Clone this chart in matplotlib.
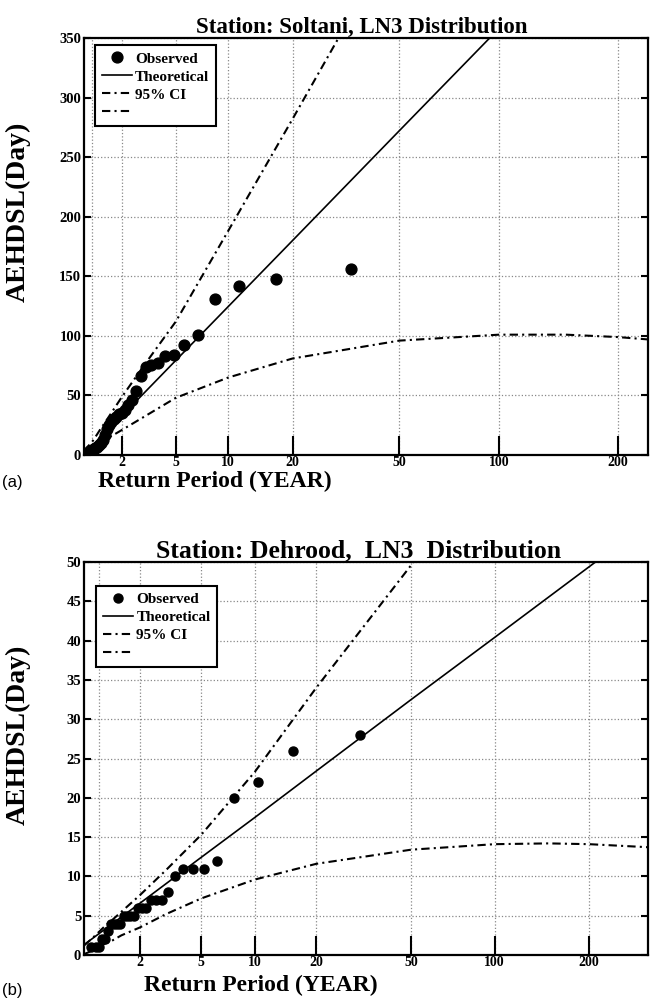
import math
import numpy as np
import matplotlib
matplotlib.use("Agg")
import matplotlib.pyplot as plt
from matplotlib.ticker import FixedLocator, NullFormatter

# ---------------- data (panel a: Soltani) ----------------
obs_T_a = [34.0, 17.0, 11.33, 8.5, 6.8, 5.667, 4.857, 4.25, 3.778, 3.4, 3.091,
           2.833, 2.615, 2.429, 2.267, 2.125, 2.0, 1.889, 1.789, 1.7, 1.619,
           1.545, 1.478, 1.417, 1.36, 1.308, 1.259, 1.214, 1.172, 1.133, 1.097,
           1.0625, 1.0303]
obs_a = [156, 148, 142, 131, 101, 92, 84, 83, 77, 75.5, 74, 66, 54, 46, 42, 38,
         35, 34, 32, 30, 28, 25, 22, 17, 13, 10, 8, 7, 6, 5, 4, 2, 1]
theo_T_a = [1.004, 2, 5, 10, 20, 50, 100]
theo_a = [0.2, 32.9, 79.4, 124.5, 180.0, 272.2, 358.1]
ci_T_a = [1.004, 1.02, 1.05, 1.1, 1.2, 1.3, 1.5, 2, 3, 5, 10, 20, 50, 100, 150, 200, 235]
ci_up_a = [3.5, 6.0, 8.0, 10.7, 16.7, 22.0, 30.6, 48.8, 75, 112, 188, 282, 440, 580, 680, 750, 800]
ci_lo_a = [0.5, 1.5, 3.0, 5.0, 8.0, 10.5, 14, 21, 32, 48, 65, 81, 96, 101, 101, 99, 97]

# ---------------- data (panel b: Dehrood) ----------------
obs_T_b = [31.0, 15.5, 10.33, 7.75, 6.2, 5.167, 4.429, 3.875, 3.444, 3.1, 2.818,
           2.583, 2.385, 2.214, 2.067, 1.9375, 1.824, 1.722, 1.632, 1.55, 1.476,
           1.409, 1.348, 1.292, 1.24, 1.192, 1.148, 1.107, 1.069, 1.033]
obs_b = [28, 26, 22, 20, 12, 11, 11, 11, 10, 8, 7, 7, 7, 6, 6, 6, 5, 5, 5, 5,
         4, 4, 4, 4, 3, 2, 2, 1, 1, 1]
theo_T_b = [1.0023, 2, 5, 10, 20, 50, 100, 200, 300]
theo_b = [1.3, 6.57, 12.43, 17.5, 23.4, 32.5, 40.4, 49.4, 55.2]
ci_T_b = [1.0023, 1.02, 1.05, 1.1, 1.2, 1.3, 1.5, 2, 3, 5, 10, 20, 50, 100, 150, 200, 300]
ci_up_b = [1.2, 1.8, 2.3, 2.9, 3.8, 4.4, 5.5, 7.6, 10.8, 15.3, 23.3, 34.0, 49.6, 63, 72, 78, 90]
ci_lo_b = [0.1, 0.4, 0.7, 1.0, 1.5, 1.8, 2.5, 3.5, 5.2, 7.2, 9.6, 11.6, 13.4, 14.1, 14.2, 14.1, 13.7]

xticks_T = [2, 5, 10, 20, 50, 100, 200]
xtick_labels = ["2", "5", "10", "20", "50", "100", "200"]


# ---------------- probability scale helpers ----------------
def norm_ppf(p):
    p = np.clip(np.asarray(p, dtype=float), 1e-15, 1 - 1e-15)
    a = [-3.969683028665376e+01, 2.209460984245205e+02, -2.759285104469687e+02,
         1.383577518672690e+02, -3.066479806614716e+01, 2.506628277459239e+00]
    b = [-5.447609879822406e+01, 1.615858368580409e+02, -1.556989798598866e+02,
         6.680131188771972e+01, -1.328068155288572e+01]
    c = [-7.784894002430293e-03, -3.223964580411365e-01, -2.400758277161838e+00,
         -2.549732539343734e+00, 4.374664141464968e+00, 2.938163982698783e+00]
    d = [7.784695709041462e-03, 3.224671290700398e-01, 2.445134137142996e+00,
         3.754408661907416e+00]
    plow = 0.02425
    out = np.empty_like(p)
    lo = p < plow
    hi = p > 1 - plow
    mid = ~(lo | hi)
    q = np.sqrt(-2 * np.log(p[lo]))
    out[lo] = (((((c[0]*q+c[1])*q+c[2])*q+c[3])*q+c[4])*q+c[5]) / ((((d[0]*q+d[1])*q+d[2])*q+d[3])*q+1)
    q = p[mid] - 0.5
    r = q * q
    out[mid] = (((((a[0]*r+a[1])*r+a[2])*r+a[3])*r+a[4])*r+a[5])*q / (((((b[0]*r+b[1])*r+b[2])*r+b[3])*r+b[4])*r+1)
    q = np.sqrt(-2 * np.log(1 - p[hi]))
    out[hi] = -(((((c[0]*q+c[1])*q+c[2])*q+c[3])*q+c[4])*q+c[5]) / ((((d[0]*q+d[1])*q+d[2])*q+d[3])*q+1)
    return out


_erf = np.vectorize(math.erf)


def make_scale(s):
    def fwd(T):
        T = np.asarray(T, dtype=float)
        T = np.where(T > 1.0000001, T, 1.0000001)
        return np.exp(s * norm_ppf(1.0 - 1.0 / T))

    def inv(u):
        u = np.asarray(u, dtype=float)
        u = np.where(u > 1e-12, u, 1e-12)
        z = np.log(u) / s
        phi = 0.5 * (1 + _erf(z / math.sqrt(2)))
        phi = np.clip(phi, 0, 1 - 1e-12)
        return 1.0 / (1.0 - phi)
    return fwd, inv


SERIF = "Liberation Serif"
DASHDOT = (0, (4, 2, 1, 2))

fig = plt.figure(figsize=(6.5, 10.01), dpi=100)
ax1 = fig.add_axes([84 / 650, 1 - 455 / 1001, (648 - 84) / 650, (455 - 38) / 1001])
ax2 = fig.add_axes([84 / 650, 1 - 955 / 1001, (648 - 84) / 650, (955 - 562) / 1001])

panels = [
    dict(ax=ax1, s=1.0, xlim=(1.0041, 235), ylim=(0, 350), yticks=np.arange(0, 351, 50),
         obsT=obs_T_a, obs=obs_a, thT=theo_T_a, th=theo_a, ciT=ci_T_a, up=ci_up_a, lo=ci_lo_a,
         title="Station: Soltani, LN3 Distribution", tsize=16.5, tx=0.492, ms=7.8,
         ylab_y=0.583, xlab=(0.232, -0.037), xlsize=17, tag="(a)", tag_y=1 - 483 / 1001,
         leg_anchor=(0.019, 0.983)),
    dict(ax=ax2, s=0.82, xlim=(1.0023, 296), ylim=(0, 50), yticks=np.arange(0, 51, 5),
         obsT=obs_T_b, obs=obs_b, thT=theo_T_b, th=theo_b, ciT=ci_T_b, up=ci_up_b, lo=ci_lo_b,
         title="Station: Dehrood,  LN3  Distribution", tsize=18.5, tx=0.487, ms=6.5,
         ylab_y=0.56, xlab=(0.313, -0.05), xlsize=17, tag="(b)", tag_y=1 - 990 / 1001,
         leg_anchor=(0.021, 0.94)),
]

for P in panels:
    ax = P["ax"]
    fwd, inv = make_scale(P["s"])
    ax.set_xscale("function", functions=(fwd, inv))

    ax.plot(P["obsT"], P["obs"], "o", color="black", ms=P["ms"], label="Observed", zorder=4)
    ax.plot(P["thT"], P["th"], "-", color="black", lw=1.2, label="Theoretical", zorder=3)
    ax.plot(P["ciT"], P["up"], color="black", lw=1.5, linestyle=DASHDOT, label="95% CI", zorder=3)
    ax.plot(P["ciT"], P["lo"], color="black", lw=1.5, linestyle=DASHDOT, label=" ", zorder=3)

    ax.set_xlim(*P["xlim"])
    ax.set_ylim(*P["ylim"])
    ax.xaxis.set_major_locator(FixedLocator(xticks_T))
    ax.set_xticklabels(xtick_labels)
    ax.xaxis.set_minor_locator(FixedLocator([1.1]))
    ax.xaxis.set_minor_formatter(NullFormatter())
    ax.set_yticks(P["yticks"])
    ax.set_yticklabels([f"{int(v)}" for v in P["yticks"]])

    ax.grid(True, which="major", linestyle=":", color="#888888", lw=0.9)
    ax.grid(True, which="minor", axis="x", linestyle=":", color="#888888", lw=0.9)
    ax.tick_params(axis="x", which="major", direction="in", length=14, width=1.5,
                   bottom=True, top=False, pad=1)
    ax.tick_params(axis="x", which="minor", length=0)
    ax.tick_params(axis="y", which="major", direction="in", length=5, width=1.5,
                   left=True, right=True, pad=2)
    for lab in ax.get_xticklabels():
        lab.set_fontfamily(SERIF)
        lab.set_fontweight("bold")
        lab.set_fontsize(10)
    for lab in ax.get_yticklabels():
        lab.set_fontfamily(SERIF)
        lab.set_fontweight("bold")
        lab.set_fontsize(10.5)
    for sp in ax.spines.values():
        sp.set_linewidth(1.6)

    ax.set_title(P["title"], fontfamily=SERIF, fontweight="bold", fontsize=P["tsize"],
                 pad=3, x=P["tx"])
    ax.set_ylabel("AEHDSL(Day)", fontfamily=SERIF, fontweight="bold", fontsize=20)
    ax.yaxis.set_label_coords(-0.094, P["ylab_y"])
    ax.set_xlabel("Return Period (YEAR)", fontfamily=SERIF, fontweight="bold", fontsize=P["xlsize"])
    ax.xaxis.set_label_coords(*P["xlab"])

    leg = ax.legend(loc="upper left", bbox_to_anchor=P["leg_anchor"], borderaxespad=0,
                    numpoints=1, fancybox=False, framealpha=1, edgecolor="black",
                    handlelength=2.0, handletextpad=0.2, labelspacing=0.28,
                    borderpad=0.45, prop=dict(family=SERIF, weight="bold", size=11))
    leg.get_frame().set_linewidth(1.5)
    leg.set_zorder(10)

    fig.text(0.003, P["tag_y"], P["tag"], fontfamily="Liberation Sans", fontsize=12,
             ha="left", va="center")

fig.savefig("out.png", dpi=100)
